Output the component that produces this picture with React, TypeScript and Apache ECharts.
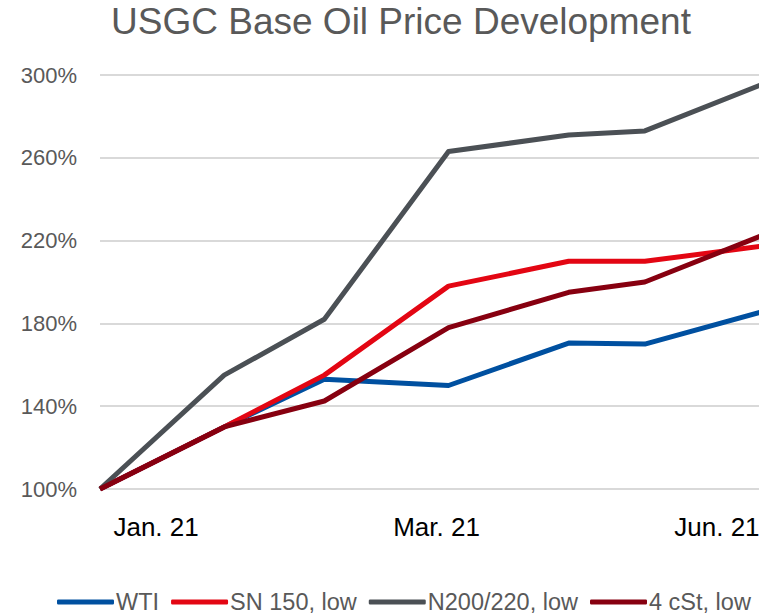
import React, { useEffect, useRef } from "react";
import * as echarts from "echarts";

const days = [0, 31, 56, 87, 117, 136, 166];
// Tick label positions (days) and their texts
const labelDays = [14, 84, 154];
const labelTexts = ["Jan. 21", "Mar. 21", "Jun. 21"];

const seriesNames = ["WTI", "SN 150, low", "N200/220, low", "4 cSt, low"];
const wti = [100, 130, 153, 150, 170.5, 170, 186];
const sn150 = [100, 130, 155, 198, 210, 210, 217.5];
const n200 = [100, 155, 182, 263, 271, 273, 296];
const cst4 = [100, 130, 142.5, 178, 195, 200, 223];
const colors = ["#0050A0", "#E30613", "#4B5055", "#870010"];

const yMin = 100;
const yMax = 300;
const yStep = 40;
const xMax = 166;

export default function App() {
  const ref = useRef<HTMLDivElement>(null);

  useEffect(() => {
    if (!ref.current) return;
    const chart = echarts.init(ref.current, undefined, { renderer: "svg" });
    const allSeries = [wti, sn150, n200, cst4];
    const font = "'Liberation Sans', Arial, sans-serif";
    chart.setOption({
      animation: false,
      color: colors,
      title: {
        text: "USGC Base Oil Price Development",
        left: "center",
        top: -2,
        textStyle: {
          fontSize: 37,
          fontWeight: "normal",
          color: "#595959",
          fontFamily: font,
        },
      },
      legend: {
        left: 57,
        top: 590,
        padding: 0,
        icon: "roundRect",
        itemWidth: 57,
        itemHeight: 5,
        itemGap: 12,
        textStyle: { fontSize: 23.5, color: "#595959", fontFamily: font, padding: [0, 0, 0, -3] },
        data: seriesNames,
      },
      grid: {
        left: 100,
        right: 37,
        top: 75,
        bottom: 126,
        containLabel: false,
        outerBoundsMode: "none",
      },
      xAxis: {
        type: "value",
        min: 0,
        max: xMax,
        splitLine: { show: false },
        axisLine: { show: false },
        axisTick: { show: false },
        axisLabel: {
          customValues: labelDays,
          formatter: (v: number) => {
            const i = labelDays.indexOf(Math.round(v));
            return i >= 0 ? labelTexts[i] : "";
          },
          fontSize: 26,
          color: "#000000",
          fontFamily: font,
          margin: 25,
        },
      },
      yAxis: {
        type: "value",
        min: yMin,
        max: yMax,
        interval: yStep,
        axisLine: { show: false },
        axisTick: { show: false },
        splitLine: { lineStyle: { color: "#D9D9D9", width: 2 } },
        axisLabel: {
          formatter: "{value}%",
          fontSize: 22,
          color: "#595959",
          fontFamily: font,
          margin: 23,
        },
      },
      series: allSeries.map((vals, si) => ({
        name: seriesNames[si],
        type: "line",
        symbol: "none",
        data: vals.map((v, i) => [days[i], v]),
        lineStyle: { width: 5, color: colors[si], join: "round" },
        itemStyle: { color: colors[si] },
        z: 2 + si,
      })),
    });
    return () => chart.dispose();
  }, []);

  return (
    <div
      style={{
        position: "fixed",
        left: 0,
        top: 0,
        width: 759,
        height: 615,
        overflow: "hidden",
        background: "#ffffff",
      }}
    >
      <div ref={ref} style={{ width: 802, height: 615 }} />
    </div>
  );
}
